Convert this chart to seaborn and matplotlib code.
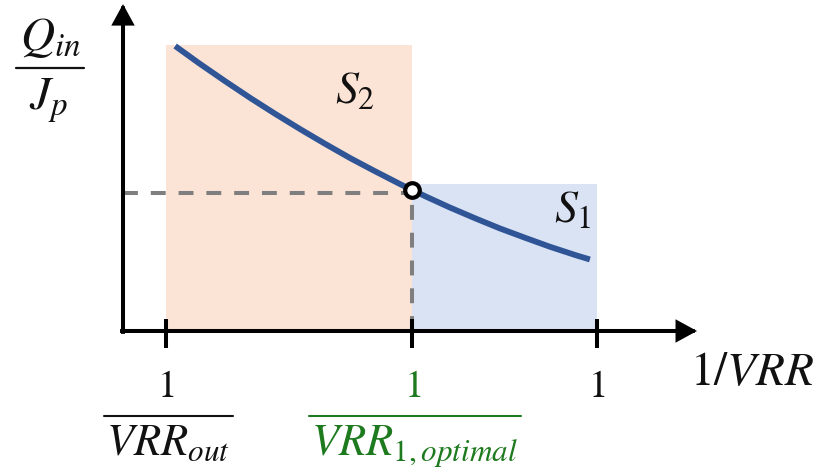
import matplotlib
matplotlib.use("Agg")
import matplotlib.pyplot as plt
import seaborn as sns

# Marked positions on the 1/VRR axis
tick_x = [0.09, 0.61, 1.0]
tick_num = ["1", "1", "1"]
tick_den = [r"$VRR_{out}$", r"$VRR_{1,optimal}$", None]
tick_colors = ["#111111", "#1E7A1E", "#111111"]

# Heat-to-pressure ratio Q_in/J_p against 1/VRR
curve_x = [0.11, 0.16, 0.215, 0.27, 0.32, 0.375, 0.425, 0.48, 0.53, 0.585,
           0.61, 0.64, 0.69, 0.745, 0.795, 0.85, 0.90, 0.955, 0.985]
curve_y = [1.000, 0.940, 0.877, 0.816, 0.763, 0.707, 0.658, 0.606, 0.562, 0.515,
           0.495, 0.471, 0.433, 0.394, 0.360, 0.326, 0.296, 0.266, 0.251]

# Shaded regions S2 and S1
region_names = [r"$S_2$", r"$S_1$"]
region_left = [0.09, 0.61]
region_right = [0.61, 1.0]
region_top = [1.005, 0.515]
region_colors = ["#FBE3D6", "#DAE3F3"]

optimal_x = 0.61
optimal_y = 0.495

sns.set_theme(style="white")
plt.rcParams["mathtext.fontset"] = "stix"
plt.rcParams["font.family"] = ["STIXGeneral", "DejaVu Serif"]

fig = plt.figure(figsize=(8.33, 4.77), dpi=100)
ax = fig.add_axes([0, 0, 1, 1])
ax.set_xlim(-0.2595, 1.4979)
ax.set_ylim(-0.5088, 1.1649)
ax.set_axis_off()

lw_axis = 2.9
ink = "#111111"

# Regions
for l, r, t, c in zip(region_left, region_right, region_top, region_colors):
    ax.fill_between([l, r], 0, t, color=c, lw=0, zorder=1)

# Guide lines to the optimal point
ax.plot([0, optimal_x], [optimal_y - 0.012] * 2, color="#7F7F7F", lw=lw_axis,
        dashes=(3.7, 3.2), zorder=2)
ax.plot([optimal_x, optimal_x], [0, optimal_y], color="#7F7F7F", lw=lw_axis,
        dashes=(3.7, 3.2), zorder=2)

# Curve
sns.lineplot(x=curve_x, y=curve_y, sort=False, color="#2F5597", lw=4.2,
             ax=ax, zorder=4, solid_capstyle="butt")

# Optimal point
ax.plot([optimal_x], [optimal_y], marker="o", ms=10.5, mfc="white",
        mec="black", mew=3.0, zorder=6, ls="none")

# Axes with arrowheads
arrow_kw = dict(arrowstyle="-|>,head_length=0.55,head_width=0.3", lw=lw_axis,
                color="black", mutation_scale=20, shrinkA=0, shrinkB=0,
                joinstyle="miter", capstyle="projecting")
ax.annotate("", xy=(0, 1.147), xytext=(0, -0.003), arrowprops=arrow_kw, zorder=7)
ax.annotate("", xy=(1.211, 0), xytext=(-0.002, 0), arrowprops=arrow_kw, zorder=7)

# Tick marks
ax.vlines(tick_x, -0.06, 0.042, colors="black", lw=lw_axis, zorder=7)

# Tick labels as fractions
fig.canvas.draw()
renderer = fig.canvas.get_renderer()
inv = ax.transData.inverted()
for x, num, den, col in zip(tick_x, tick_num, tick_den, tick_colors):
    ax.text(x + 0.004, -0.228, num, color=col, fontsize=28,
            ha="center", va="baseline")
    if den is None:
        continue
    t = ax.text(x + 0.005, -0.43, den, color=col, fontsize=32,
                ha="center", va="baseline")
    bb = t.get_window_extent(renderer)
    (x0, _), (x1, _) = inv.transform([(bb.x0 - 2, 0), (bb.x1 + 3, 0)])
    ax.plot([x0, x1], [-0.298, -0.298], color=col, lw=1.5)

# Axis titles
ax.text(1.327, -0.186, r"$1/VRR$", fontsize=34, ha="center", va="baseline",
        color=ink)
ax.text(-0.152, 0.99, r"$Q_{in}$", fontsize=34, ha="center", va="baseline",
        color=ink)
ax.plot([-0.2257, -0.0823], [0.923, 0.923], color=ink, lw=1.6)
ax.text(-0.158, 0.78, r"$J_p$", fontsize=34, ha="center", va="baseline",
        color=ink)

# Region names
ax.text(0.489, 0.804, region_names[0], fontsize=33, ha="center",
        va="baseline", color=ink, zorder=5)
ax.text(0.949, 0.386, region_names[1], fontsize=33, ha="center",
        va="baseline", color=ink, zorder=5)

fig.savefig("out.png", dpi=100)
